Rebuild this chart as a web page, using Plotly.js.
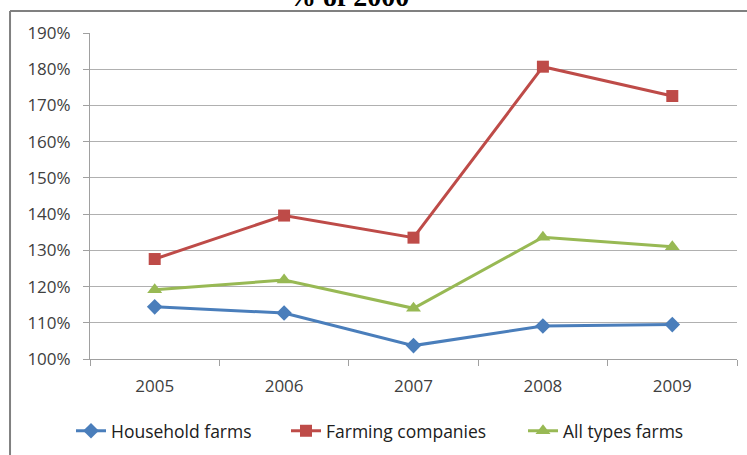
<!DOCTYPE html>
<html><head><meta charset="utf-8">
<script src="https://cdn.plot.ly/plotly-3.0.1.min.js"></script>
<style>html,body{margin:0;padding:0;background:#fff;}#chart{width:747px;height:455px;}</style>
</head><body><div id="chart"></div>
<script>
const years = ['2005','2006','2007','2008','2009'];
const household = [1.144, 1.127, 1.037, 1.091, 1.095];
const companies = [1.276, 1.396, 1.335, 1.807, 1.726];
const allTypes = [1.191, 1.218, 1.140, 1.336, 1.310];
const yTicks = [1.0,1.1,1.2,1.3,1.4,1.5,1.6,1.7,1.8,1.9];
const yTickText = ['100%','110%','120%','130%','140%','150%','160%','170%','180%','190%'];
const titleText = '% of 2000';

function tr(name, y, color, sym, size, lg){
  return {x: years, y: y, name: name, type:'scatter', mode:'lines+markers', legend: lg,
    line:{color:color, width:3}, marker:{symbol:sym, size:size, color:color}};
}
const data = [
  tr('Household farms', household, '#4A7EBB', 'diamond', 12, 'legend'),
  tr('Farming companies', companies, '#BE4B48', 'square', 12, 'legend2'),
  tr('All types farms', allTypes, '#98B954', 'triangle-up', 13, 'legend3')
];
function lg(xpx){
  return {orientation:'h', xref:'container', x:xpx/747, xanchor:'left', yref:'container', y:0.053, yanchor:'middle',
    font:{size:17.5, color:'#202020'}, bgcolor:'rgba(0,0,0,0)'};
}
const layout = {
  width:747, height:455,
  margin:{l:90, r:10, t:33, b:96, autoexpand:false},
  paper_bgcolor:'#fff', plot_bgcolor:'#fff',
  font:{family:'"Open Sans", sans-serif', color:'#404040', size:17},
  xaxis:{type:'category', showgrid:false, showline:true, linecolor:'#A0A0A0', linewidth:1,
    ticks:'outside', tickson:'boundaries', ticklen:6, tickcolor:'#A0A0A0',
    ticklabelstandoff:12,
    tickfont:{size:17, color:'#404040'}, range:[-0.5,4.5]},
  yaxis:{range:[1.0,1.9], tickvals:yTicks, ticktext:yTickText, showgrid:true, gridcolor:'#B0B0B0', gridwidth:1,
    showline:true, linecolor:'#A0A0A0', ticks:'outside', ticklen:6, tickcolor:'#A0A0A0',
    ticklabelstandoff:9,
    tickfont:{size:17, color:'#404040'}, zeroline:false},
  showlegend:true,
  legend: lg(71),
  legend2: lg(286),
  legend3: lg(523),
  annotations:[
    {text:titleText, xref:'paper', yref:'paper', x:(348-90)/647, y:1+(33-14)/326, xanchor:'center', yanchor:'bottom',
     showarrow:false, font:{family:'"Liberation Serif", serif', size:28, color:'#000', weight:'bold'}}
  ],
  shapes:[
    {type:'line', xref:'paper', yref:'paper', x0:-0.1236, x1:1.03, y0:1.0675, y1:1.0675, line:{color:'#808080', width:2}},
    {type:'line', xref:'paper', yref:'paper', x0:-0.1236, x1:-0.1236, y0:1.0675, y1:-0.35, line:{color:'#808080', width:2}}
  ]
};
Plotly.newPlot('chart', data, layout, {displayModeBar:false, staticPlot:true});
</script></body></html>
